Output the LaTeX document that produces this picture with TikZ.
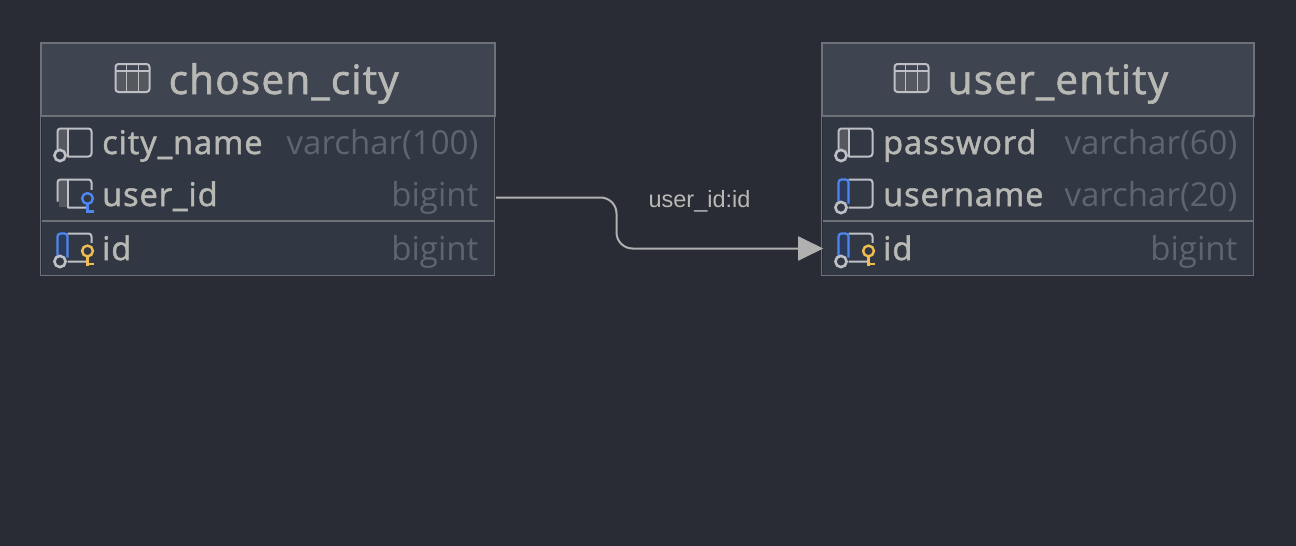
\documentclass[tikz,border=0pt]{standalone}
\usepackage{fontspec}
\setmainfont{Open Sans}
\newfontfamily\namefont[FakeBold=1.6,LetterSpace=3]{Open Sans}
\newfontfamily\labelfont{Liberation Sans}
\usetikzlibrary{arrows.meta,positioning}
\definecolor{canvas}{HTML}{292C34}
\definecolor{headfill}{HTML}{3E4450}
\definecolor{rowfill}{HTML}{323843}
\definecolor{frameline}{HTML}{6E7175}
\definecolor{nametext}{HTML}{B8B8B4}
\definecolor{typetext}{HTML}{5E6570}
\definecolor{wire}{HTML}{B0B0B0}
\definecolor{iconline}{HTML}{BEC0C6}
\definecolor{stripe}{HTML}{55585E}
\definecolor{keyblue}{HTML}{4F86F0}
\definecolor{bluefill}{HTML}{2A3B5C}
\definecolor{keygold}{HTML}{F0BE50}
\tikzset{
  headbox/.style={draw=frameline,fill=headfill,line width=1.3pt,minimum height=72.5pt,inner sep=0pt},
  rowbox/.style={fill=rowfill,minimum height=51pt,inner sep=0pt},
  headtext/.style={font=\namefont\fontsize{40.5}{41}\selectfont,text=nametext,inner sep=0pt,anchor=base west},
  nametext/.style={font=\namefont\fontsize{32.5}{33}\selectfont,text=nametext,inner sep=0pt,anchor=base west},
  typetext/.style={font=\fontsize{33}{33}\selectfont,text=typetext,inner sep=0pt,anchor=base east},
  tableicon/.pic={
    \fill[stripe] (0,7) rectangle (34,28);
    \draw[iconline,line width=2pt,rounded corners=3pt] (0,0) rectangle (34,28);
    \draw[iconline,line width=1.6pt] (0,7) -- (34,7) (11,0) -- (11,28) (23,0) -- (23,28);
  },
  % column body: stripe on the left, outline, optional circle and key
  columnbody/.pic={
    \fill[stripe] (1,1) rectangle (10,27);
    \draw[iconline,line width=2pt,rounded corners=3pt] (0,22) -- (0,0) -- (34,0) -- (34,28) -- (10,28);
    \draw[iconline,line width=2pt] (10,0) -- (10,28);
  },
  bluebody/.pic={
    \fill[bluefill] (1,1) rectangle (10,24);
    \draw[iconline,line width=2pt,rounded corners=3pt] (10,0) -- (34,0) -- (34,28) -- (10,28);
    \draw[keyblue,line width=2.2pt,rounded corners=3pt] (0,24) -- (0,0) -- (10,0) -- (10,24);
  },
  nullring/.pic={
    \draw[iconline,line width=2.6pt,fill=rowfill] (0,0) circle (5.6);
  },
  keymark/.pic={
    \fill[rowfill] (-1.5,-8.5) rectangle (8,16);
    \draw[line width=2.4pt] (0,5) -- (0,14.5) (0,12.8) -- (6.5,12.8);
    \draw[line width=2.4pt,fill=rowfill] (0,0) circle (5.4);
  },
}
\begin{document}
\begin{tikzpicture}[x=1pt,y=-1pt]
  \useasboundingbox (0,0) rectangle (1296,546);
  \fill[canvas] (0,0) rectangle (1296,546);

  % left table
  \node[headbox,minimum width=454pt] (cityhead) at (268.4,79.2) {};
  \node[rowbox,minimum width=452pt,minimum height=106pt,anchor=north] (cityupper) at (268.4,115.2) {};
  \node[rowbox,minimum width=452pt,minimum height=54pt,anchor=north] (citylower) at (268.4,221) {};
  \draw[frameline,line width=1.3pt] (cityhead.north west) rectangle (citylower.south east);
  \draw[frameline,line width=1.8pt] (cityhead.south west) -- (cityhead.south east);
  \draw[frameline,line width=1.8pt] (citylower.north west) -- (citylower.north east);
  \coordinate (cityuser) at ([xshift=1.5pt]cityupper.east |- 0,197.5);
  \path (115.5,64) pic {tableicon};
  \node[headtext] (cityname) at (168.5,94) {chosen\_city};

  \path (57.5,128.5) pic {columnbody} (60,155.5) pic {nullring};
  \node[nametext] (cityfield) at (102,154) {city\_name};
  \node[typetext] (citytype) at (478.5,154) {varchar(100)};
  \path (57.5,179.5) pic {columnbody} (87.5,198.5) pic[keyblue] {keymark};
  \node[nametext] (useridfield) at (102,206) {user\_id};
  \node[typetext] (useridtype) at (478.5,206) {bigint};
  \path (57.5,233.5) pic {bluebody} (60,261.5) pic {nullring} (87.5,251) pic[keygold] {keymark};
  \node[nametext] (cityidfield) at (102,260) {id};
  \node[typetext] (cityidtype) at (478.5,260) {bigint};

  % right table
  \node[headbox,minimum width=432pt] (userhead) at (1038.4,79.2) {};
  \node[rowbox,minimum width=430pt,minimum height=106pt,anchor=north] (userupper) at (1038.4,115.2) {};
  \node[rowbox,minimum width=430pt,minimum height=54pt,anchor=north] (userlower) at (1038.4,221) {};
  \draw[frameline,line width=1.3pt] (userhead.north west) rectangle (userlower.south east);
  \draw[frameline,line width=1.8pt] (userhead.south west) -- (userhead.south east);
  \draw[frameline,line width=1.8pt] (userlower.north west) -- (userlower.north east);
  \coordinate (userid) at (userlower.west |- 0,248.5);
  \path (894.5,64) pic {tableicon};
  \node[headtext] (username) at (947.5,94) {user\_entity};

  \path (838.5,128.5) pic {columnbody} (841,155.5) pic {nullring};
  \node[nametext] (passfield) at (883,154) {password};
  \node[typetext] (passtype) at (1237.5,154) {varchar(60)};
  \path (838.5,179.5) pic {bluebody} (841,207.5) pic {nullring};
  \node[nametext] (namefield) at (883,206) {username};
  \node[typetext] (nametype) at (1237.5,206) {varchar(20)};
  \path (838.5,233.5) pic {bluebody} (841,261.5) pic {nullring} (868.5,251) pic[keygold] {keymark};
  \node[nametext] (useridfieldb) at (883,260) {id};
  \node[typetext] (useridtypeb) at (1237.5,260) {bigint};

  % relation
  \draw[wire,line width=2pt,rounded corners=16pt,-{Triangle[length=25pt,width=24pt]}]
    (cityuser) -- (616.5,197.5) -- (616.5,248.5) -- (userid);
  \node[font=\labelfont\fontsize{23.5}{24}\selectfont,text=nametext,inner sep=0pt] (rellabel) at (699.5,201.5) {user\_id:id};
\end{tikzpicture}
\end{document}
